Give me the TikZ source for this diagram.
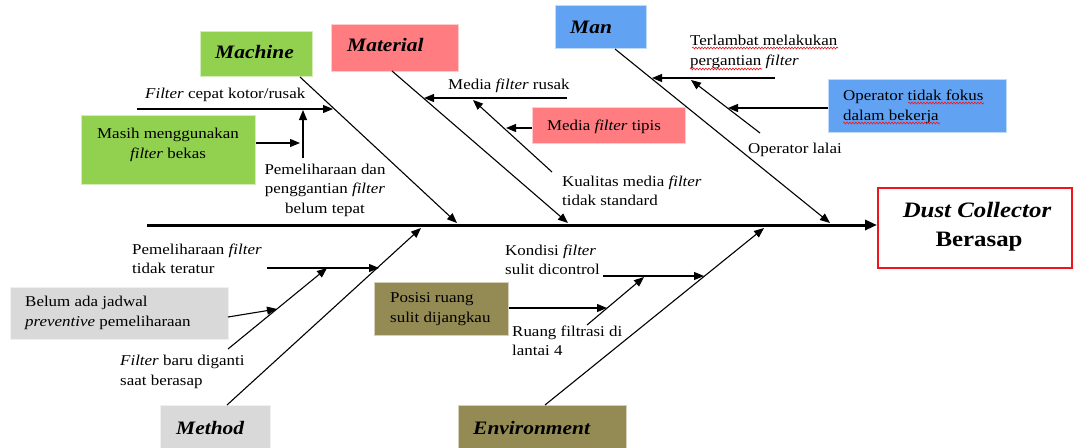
\documentclass[tikz,border=0pt]{standalone}
\usepackage{fontspec}
\setmainfont{Liberation Serif}[FakeStretch=1.13]
\usetikzlibrary{arrows.meta,decorations.pathmorphing}
\definecolor{cgreen}{HTML}{92D050}
\definecolor{csalmon}{HTML}{FF7C80}
\definecolor{cblue}{HTML}{62A2F2}
\definecolor{cgray}{HTML}{D9D9D9}
\definecolor{colive}{HTML}{948A54}
\definecolor{cred}{HTML}{F0141C}
\begin{document}
\begin{tikzpicture}[x=1pt,y=-1pt,
  txt/.style={font=\fontsize{15}{19.5}\selectfont, inner sep=0pt, align=left, anchor=west},
  boxtxt/.style={font=\fontsize{15}{19.5}\selectfont, inner sep=0pt},
  cat/.style={font=\fontsize{19}{22}\selectfont\bfseries\itshape, inner sep=0pt, anchor=west},
  catbox/.style={draw=white!60!#1, line width=0.6pt, fill=#1, anchor=north west, inner sep=0pt},
  bone/.style={line width=1.1pt, -{Triangle[length=10pt,width=8pt]}},
  sub/.style={line width=1.1pt, -{Triangle[length=10pt,width=8pt]}},
  spell/.style={cred, line width=0.6pt, decorate, decoration={snake, amplitude=0.9pt, segment length=3pt}}
]
\useasboundingbox[fill=white] (0,0) rectangle (1073,447);

% ---------- spine and effect ----------
\node[draw=cred, color=cred, line width=1.5pt, fill=white, anchor=north west, minimum width=194pt, minimum height=80pt, inner sep=0pt] (effect) at (877,187) {};
\node[font=\fontsize{22}{26}\selectfont\bfseries\itshape, inner sep=0pt] (effA) at (977,210) {Dust Collector};
\node[font=\fontsize{22}{26}\selectfont\bfseries, inner sep=0pt] (effB) at (979,242) {Berasap};
\coordinate (sp0) at (147,225);
\draw[line width=3pt, -{Triangle[length=12pt,width=10pt]}] (sp0) -- (effect.west |- sp0);

% ---------- category boxes ----------
\node[catbox=cgreen, minimum width=112pt, minimum height=45pt] (machine) at (200,31) {};
\node[cat] (machineT) at (215,52) {Machine};
\node[catbox=csalmon, minimum width=127pt, minimum height=47pt] (material) at (331,24) {};
\node[cat] (materialT) at (347,45) {Material};
\node[catbox=cblue, minimum width=91pt, minimum height=43pt] (man) at (555,5) {};
\node[cat] (manT) at (570,27) {Man};
\node[catbox=cgray, minimum width=110pt, minimum height=44pt] (method) at (160,405) {};
\node[cat] (methodT) at (176,428) {Method};
\node[catbox=colive, minimum width=168pt, minimum height=44pt] (environment) at (458,405) {};
\node[cat] (environmentT) at (473,428) {Environment};

% ---------- main bones ----------
\coordinate (mA) at (300,77);   \coordinate (mB) at (457,223);
\coordinate (tA) at (392,71);   \coordinate (tB) at (568,223);
\coordinate (nA) at (615,49);   \coordinate (nB) at (830,223);
\coordinate (dA) at (227,405);  \coordinate (dB) at (421,228);
\coordinate (eA) at (545,405);  \coordinate (eB) at (764,228);
\draw[bone] (mA) -- (mB);
\draw[bone] (tA) -- (tB);
\draw[bone] (nA) -- (nB);
\draw[bone] (dA) -- (dB);
\draw[bone] (eA) -- (eB);

% ---------- Machine causes ----------
\node[txt] (fc) at (145,95) {\textit{Filter} cepat kotor/rusak};
\coordinate (fc0) at (137,109); \coordinate (fc1) at (333,109);
\draw[sub] (fc0) -- (fc1);
\node[catbox=cgreen, minimum width=174pt, minimum height=69pt] (masih) at (81,115) {};
\node[boxtxt, align=center] (masihT) at (168,145) {Masih menggunakan\\\textit{filter} bekas};
\coordinate (mv0) at (303,158); \coordinate (mv1) at (303,110);
\draw[sub] (mv0) -- (mv1);
\coordinate (ms1) at (300,143);
\draw[sub] (masih.east |- ms1) -- (ms1);
\node[boxtxt, align=center] (pem) at (325,190) {Pemeliharaan dan\\penggantian \textit{filter}\\belum tepat};

% ---------- Material causes ----------
\node[txt] (mfr) at (448,86) {Media \textit{filter} rusak};
\coordinate (mr0) at (567,98); \coordinate (mr1) at (424,98);
\draw[sub] (mr0) -- (mr1);
\coordinate (kq0) at (552,172); \coordinate (kq1) at (473,100);
\draw[sub] (kq0) -- (kq1);
\node[catbox=csalmon, minimum width=153pt, minimum height=36pt] (tipis) at (532,107) {};
\node[boxtxt] (tipisT) at (604,127) {Media \textit{filter} tipis};
\coordinate (tp1) at (506,128);
\draw[sub] (tipis.west |- tp1) -- (tp1);
\node[txt] (kual) at (562,191) {Kualitas media \textit{filter}\\tidak standard};

% ---------- Man causes ----------
\node[txt] (terl) at (690,52) {Terlambat melakukan\\pergantian \textit{filter}};
\coordinate (tl0) at (775,78); \coordinate (tl1) at (652,78);
\draw[sub] (tl0) -- (tl1);
\coordinate (ol0) at (760,133); \coordinate (ol1) at (691,80);
\draw[sub] (ol0) -- (ol1);
\node[catbox=cblue, minimum width=178pt, minimum height=53pt] (fokus) at (828,79) {};
\node[txt] (fokusT) at (843,107) {Operator tidak fokus\\dalam bekerja};
\coordinate (of1) at (728,108);
\draw[sub] (fokus.west |- of1) -- (of1);
\node[txt] (lalai) at (748,150) {Operator lalai};
% spelling marks
\draw[spell] (692,48) -- (838,48);
\draw[spell] (690,69) -- (762,69);
\draw[spell] (908,103) -- (984,103);
\draw[spell] (843,123) -- (940,123);

% ---------- Method causes ----------
\node[txt] (pft) at (132,259) {Pemeliharaan \textit{filter}\\tidak teratur};
\coordinate (pf0) at (267,268); \coordinate (pf1) at (379,268);
\draw[sub] (pf0) -- (pf1);
\coordinate (fb0) at (228,349); \coordinate (fb1) at (327,268);
\draw[sub] (fb0) -- (fb1);
\node[catbox=cgray, minimum width=218pt, minimum height=52pt] (belum) at (10,287) {};
\node[txt] (belumT) at (25,313) {Belum ada jadwal\\\textit{preventive} pemeliharaan};
\coordinate (bl0) at (228,317); \coordinate (bl1) at (277,309);
\draw[sub] (bl0) -- (bl1);
\node[txt] (fbT) at (120,372) {\textit{Filter} baru diganti\\saat berasap};

% ---------- Environment causes ----------
\node[txt] (kond) at (505,260) {Kondisi \textit{filter}\\sulit dicontrol};
\coordinate (kd0) at (603,276); \coordinate (kd1) at (704,276);
\draw[sub] (kd0) -- (kd1);
\coordinate (rf0) at (587,325); \coordinate (rf1) at (644,277);
\draw[sub] (rf0) -- (rf1);
\node[catbox=colive, minimum width=134pt, minimum height=53pt] (posisi) at (374,282) {};
\node[txt] (posisiT) at (390,309) {Posisi ruang\\sulit dijangkau};
\coordinate (ps1) at (607,308);
\draw[sub] (posisi.east |- ps1) -- (ps1);
\node[txt] (ruang) at (512,341) {Ruang filtrasi di\\lantai 4};
\end{tikzpicture}
\end{document}
